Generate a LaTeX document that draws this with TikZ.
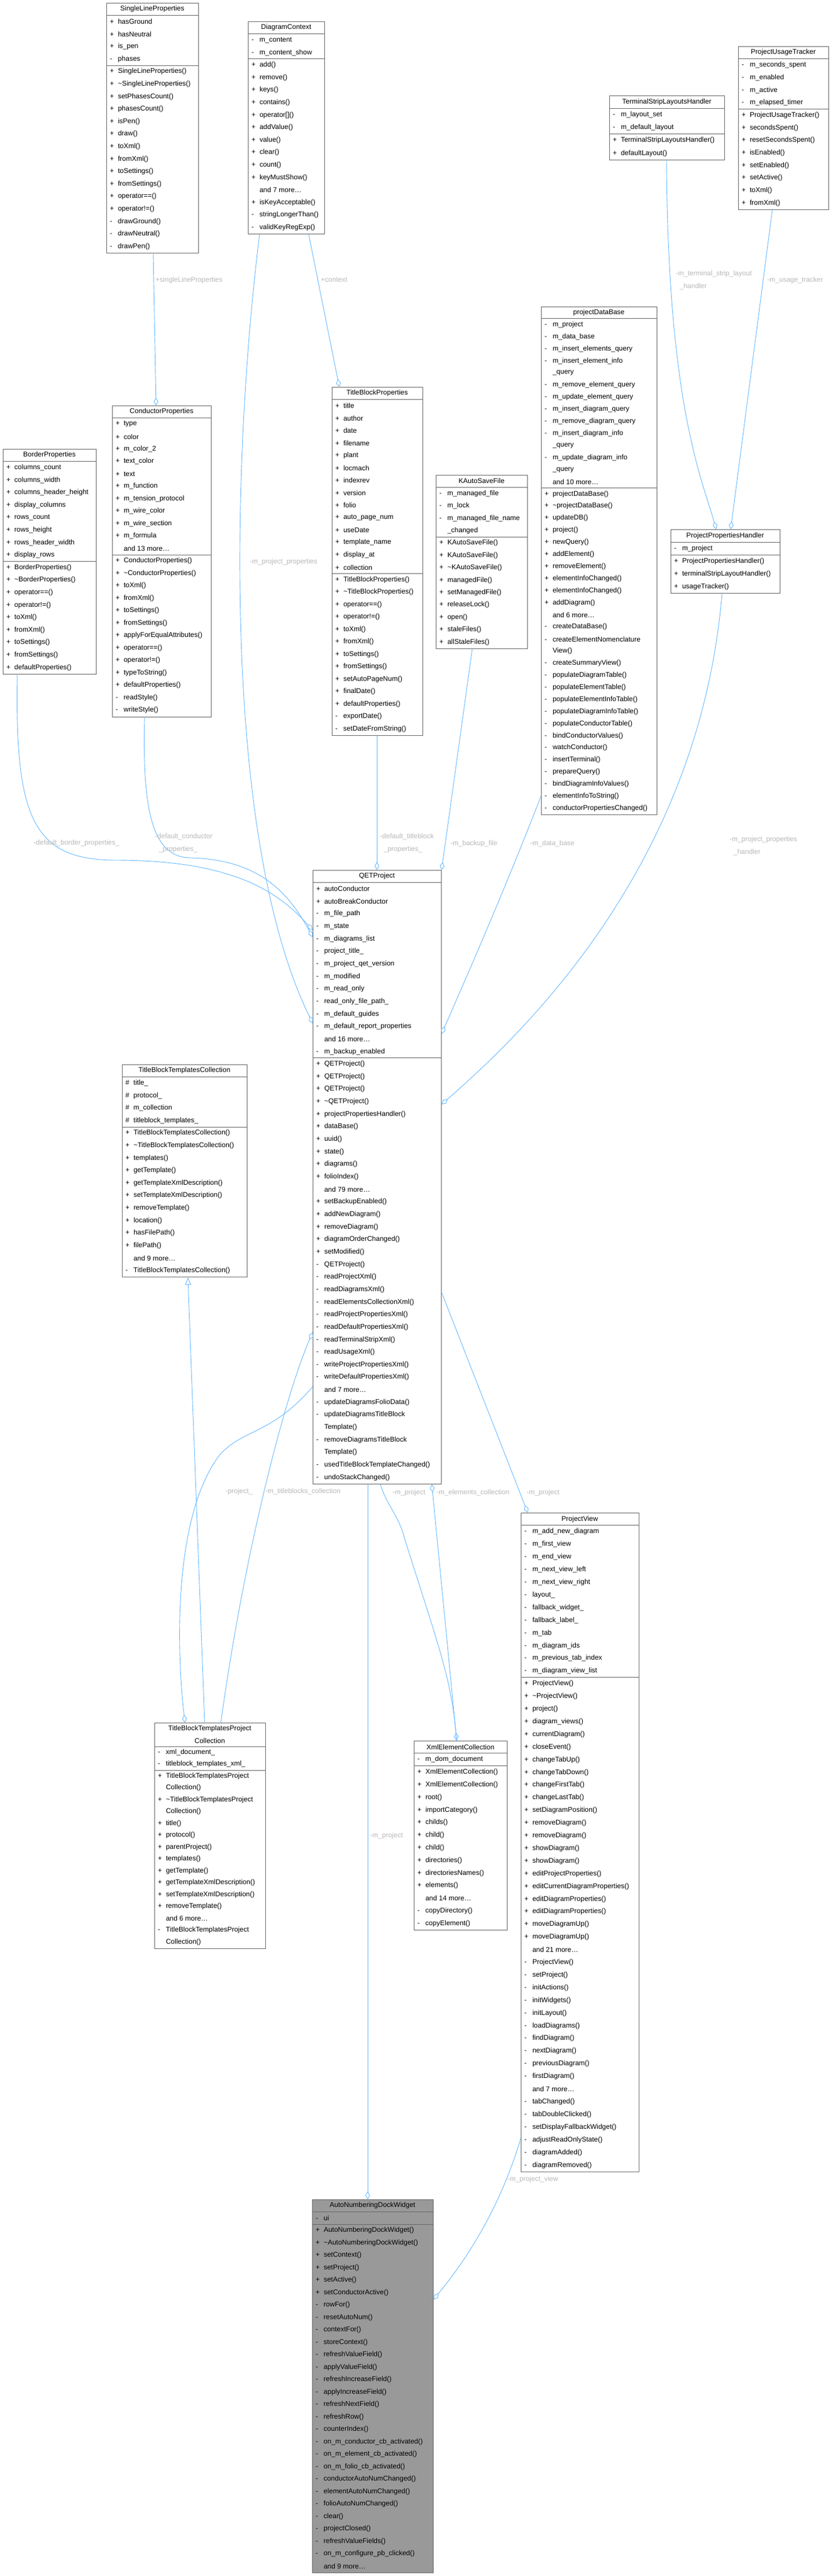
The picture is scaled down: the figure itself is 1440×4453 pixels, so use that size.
\documentclass[tikz,border=0pt]{standalone}
\usepackage{fontspec}
\setmainfont{Liberation Sans}
\usepackage{xcolor}
\usetikzlibrary{positioning,backgrounds,arrows.meta}

\definecolor{edgeblue}{HTML}{63B8FF}
\definecolor{framegray}{HTML}{666666}
\definecolor{labelgray}{HTML}{B8B8B8}
\definecolor{focusgray}{HTML}{999999}

\tikzset{
  classframe/.style={draw=framegray, line width=0.9pt, fill=white, inner sep=0pt},
  classtitle/.style={inner sep=0pt, font=\fontsize{12}{14}\selectfont},
  classrow/.style={anchor=west, inner sep=0pt, font=\fontsize{12}{14}\selectfont},
  focus/.style={fill=focusgray},
  member/.style={draw=edgeblue, line width=0.9pt, -{Diamond[open,length=14pt,width=8pt]}},
  derived/.style={draw=edgeblue, line width=0.9pt, -{Triangle[open,length=13pt,width=10pt]}},
  edgelabel/.style={anchor=west, inner sep=0pt, text=labelgray, align=left,
    font=\fontsize{12}{22}\selectfont},
}

% #1 style, #2 name, #3 left, #4 top, #5 right, #6 row pitch, #7 title, #8 attributes, #9 methods
\newcommand\classbox[9][]{%
  \xdef\rowy{#4}%
  \foreach \ctxt in {#7} {%
    \node[classtitle] at ({(#3+#5)/2},\rowy+#6/2) {\ctxt};
    \pgfmathsetmacro\rowy{\rowy+#6}\xdef\rowy{\rowy}}%
  \xdef\sepa{\rowy}%
  \foreach \csign/\ctxt in {#8} {%
    \node[classrow] at (#3+6,\rowy+#6/2) {\makebox[1.15em][l]{\csign}\ctxt};
    \pgfmathsetmacro\rowy{\rowy+#6}\xdef\rowy{\rowy}}%
  \xdef\sepb{\rowy}%
  \foreach \csign/\ctxt in {#9} {%
    \node[classrow] at (#3+6,\rowy+#6/2) {\makebox[1.15em][l]{\csign}\ctxt};
    \pgfmathsetmacro\rowy{\rowy+#6}\xdef\rowy{\rowy}}%
  \begin{scope}[on background layer]
    \node[classframe, #1, minimum width={(#5-#3)*1pt}, minimum height={(\rowy-#4)*1pt},
      anchor=north west] (#2) at (#3,#4) {};
  \end{scope}
  \draw[framegray, line width=0.9pt] (#3,\sepa) -- (#5,\sepa) (#3,\sepb) -- (#5,\sepb);
}

\begin{document}
\begin{tikzpicture}[x=1pt, y=-1pt]

\useasboundingbox (0,0) rectangle (1440,4453);
\begin{scope}[on background layer]
  \fill[white] (0,0) rectangle (1440,4453);
\end{scope}

% classes, top row
\classbox{slp}{184}{5}{343}{21.6}{SingleLineProperties}
  {+/hasGround, +/hasNeutral, +/is\_pen, -/phases}
  {+/SingleLineProperties(), +/\textasciitilde SingleLineProperties(), +/setPhasesCount(),
   +/phasesCount(), +/isPen(), +/draw(), +/toXml(), +/fromXml(), +/toSettings(),
   +/fromSettings(), +/operator==(), +/operator!=(), -/drawGround(), -/drawNeutral(), -/drawPen()}

\classbox{dc}{429}{37}{561}{21.6}{DiagramContext}
  {-/m\_content, -/m\_content\_show}
  {+/add(), +/remove(), +/keys(), +/contains(), +/operator[](), +/addValue(), +/value(),
   +/clear(), +/count(), +/keyMustShow(), {}/and 7 more\dots, +/isKeyAcceptable(),
   -/stringLongerThan(), -/validKeyRegExp()}

\classbox{tslh}{1054}{165}{1253}{22.2}{TerminalStripLayoutsHandler}
  {-/m\_layout\_set, -/m\_default\_layout}
  {+/TerminalStripLayoutsHandler(), +/defaultLayout()}

\classbox{put}{1277}{80}{1433}{21.7}{ProjectUsageTracker}
  {-/m\_seconds\_spent, -/m\_enabled, -/m\_active, -/m\_elapsed\_timer}
  {+/ProjectUsageTracker(), +/secondsSpent(), +/resetSecondsSpent(), +/isEnabled(),
   +/setEnabled(), +/setActive(), +/toXml(), +/fromXml()}

% classes, second row
\classbox{bp}{5}{776}{166}{21.6}{BorderProperties}
  {+/columns\_count, +/columns\_width, +/columns\_header\_height, +/display\_columns,
   +/rows\_count, +/rows\_height, +/rows\_header\_width, +/display\_rows}
  {+/BorderProperties(), +/\textasciitilde BorderProperties(), +/operator==(), +/operator!=(),
   +/toXml(), +/fromXml(), +/toSettings(), +/fromSettings(), +/defaultProperties()}

\classbox{cp}{194}{701}{365}{21.5}{ConductorProperties}
  {+/type, +/color, +/m\_color\_2, +/text\_color, +/text, +/m\_function,
   +/m\_tension\_protocol, +/m\_wire\_color, +/m\_wire\_section, +/m\_formula, {}/and 13 more\dots}
  {+/ConductorProperties(), +/\textasciitilde ConductorProperties(), +/toXml(), +/fromXml(),
   +/toSettings(), +/fromSettings(), +/applyForEqualAttributes(), +/operator==(),
   +/operator!=(), +/typeToString(), +/defaultProperties(), -/readStyle(), -/writeStyle()}

\classbox{tbp}{574}{669}{731}{21.5}{TitleBlockProperties}
  {+/title, +/author, +/date, +/filename, +/plant, +/locmach, +/indexrev, +/version,
   +/folio, +/auto\_page\_num, +/useDate, +/template\_name, +/display\_at, +/collection}
  {+/TitleBlockProperties(), +/\textasciitilde TitleBlockProperties(), +/operator==(),
   +/operator!=(), +/toXml(), +/fromXml(), +/toSettings(), +/fromSettings(),
   +/setAutoPageNum(), +/finalDate(), +/defaultProperties(), -/exportDate(),
   -/setDateFromString()}

\classbox{kasf}{754}{821}{912}{21.4}{KAutoSaveFile}
  {-/m\_managed\_file, -/m\_lock, -/m\_managed\_file\_name, {}/\_changed}
  {+/KAutoSaveFile(), +/KAutoSaveFile(), +/\textasciitilde KAutoSaveFile(), +/managedFile(),
   +/setManagedFile(), +/releaseLock(), +/open(), +/staleFiles(), +/allStaleFiles()}

\classbox{pdb}{936}{530}{1136}{20.9}{projectDataBase}
  {-/m\_project, -/m\_data\_base, -/m\_insert\_elements\_query, -/m\_insert\_element\_info,
   {}/\_query, -/m\_remove\_element\_query, -/m\_update\_element\_query,
   -/m\_insert\_diagram\_query, -/m\_remove\_diagram\_query, -/m\_insert\_diagram\_info,
   {}/\_query, -/m\_update\_diagram\_info, {}/\_query, {}/and 10 more\dots}
  {+/projectDataBase(), +/\textasciitilde projectDataBase(), +/updateDB(), +/project(),
   +/newQuery(), +/addElement(), +/removeElement(), +/elementInfoChanged(),
   +/elementInfoChanged(), +/addDiagram(), {}/and 6 more\dots, -/createDataBase(),
   -/createElementNomenclature, {}/View(), -/createSummaryView(), -/populateDiagramTable(),
   -/populateElementTable(), -/populateElementInfoTable(), -/populateDiagramInfoTable(),
   -/populateConductorTable(), -/bindConductorValues(), -/watchConductor(),
   -/insertTerminal(), -/prepareQuery(), -/bindDiagramInfoValues(),
   -/elementInfoToString(), -/conductorPropertiesChanged()}

\classbox{pph}{1160}{915}{1349}{22}{ProjectPropertiesHandler}
  {-/m\_project}
  {+/ProjectPropertiesHandler(), +/terminalStripLayoutHandler(), +/usageTracker()}

% the project
\classbox{qet}{541}{1504}{763}{21.65}{QETProject}
  {+/autoConductor, +/autoBreakConductor, -/m\_file\_path, -/m\_state, -/m\_diagrams\_list,
   -/project\_title\_, -/m\_project\_qet\_version, -/m\_modified, -/m\_read\_only,
   -/read\_only\_file\_path\_, -/m\_default\_guides, -/m\_default\_report\_properties,
   {}/and 16 more\dots, -/m\_backup\_enabled}
  {+/QETProject(), +/QETProject(), +/QETProject(), +/\textasciitilde QETProject(),
   +/projectPropertiesHandler(), +/dataBase(), +/uuid(), +/state(), +/diagrams(),
   +/folioIndex(), {}/and 79 more\dots, +/setBackupEnabled(), +/addNewDiagram(),
   +/removeDiagram(), +/diagramOrderChanged(), +/setModified(), -/QETProject(),
   -/readProjectXml(), -/readDiagramsXml(), -/readElementsCollectionXml(),
   -/readProjectPropertiesXml(), -/readDefaultPropertiesXml(), -/readTerminalStripXml(),
   -/readUsageXml(), -/writeProjectPropertiesXml(), -/writeDefaultPropertiesXml(),
   {}/and 7 more\dots, -/updateDiagramsFolioData(), -/updateDiagramsTitleBlock,
   {}/Template(), -/removeDiagramsTitleBlock, {}/Template(),
   -/usedTitleBlockTemplateChanged(), -/undoStackChanged()}

\classbox{tbtc}{211}{1840}{427}{21.6}{TitleBlockTemplatesCollection}
  {\#/title\_, \#/protocol\_, \#/m\_collection, \#/titleblock\_templates\_}
  {+/TitleBlockTemplatesCollection(), +/\textasciitilde TitleBlockTemplatesCollection(),
   +/templates(), +/getTemplate(), +/getTemplateXmlDescription(),
   +/setTemplateXmlDescription(), +/removeTemplate(), +/location(), +/hasFilePath(),
   +/filePath(), {}/and 9 more\dots, -/TitleBlockTemplatesCollection()}

\classbox{tbtpc}{267}{2978}{459}{20.5}{TitleBlockTemplatesProject, Collection}
  {-/xml\_document\_, -/titleblock\_templates\_xml\_}
  {+/TitleBlockTemplatesProject, {}/Collection(), +/\textasciitilde TitleBlockTemplatesProject,
   {}/Collection(), +/title(), +/protocol(), +/parentProject(), +/templates(),
   +/getTemplate(), +/getTemplateXmlDescription(), +/setTemplateXmlDescription(),
   +/removeTemplate(), {}/and 6 more\dots, -/TitleBlockTemplatesProject, {}/Collection()}

\classbox{xec}{716}{3009}{877}{21.8}{XmlElementCollection}
  {-/m\_dom\_document}
  {+/XmlElementCollection(), +/XmlElementCollection(), +/root(), +/importCategory(),
   +/childs(), +/child(), +/child(), +/directories(), +/directoriesNames(), +/elements(),
   {}/and 14 more\dots, -/copyDirectory(), -/copyElement()}

\classbox{pv}{901}{2615}{1105}{21.9}{ProjectView}
  {-/m\_add\_new\_diagram, -/m\_first\_view, -/m\_end\_view, -/m\_next\_view\_left,
   -/m\_next\_view\_right, -/layout\_, -/fallback\_widget\_, -/fallback\_label\_, -/m\_tab,
   -/m\_diagram\_ids, -/m\_previous\_tab\_index, -/m\_diagram\_view\_list}
  {+/ProjectView(), +/\textasciitilde ProjectView(), +/project(), +/diagram\_views(),
   +/currentDiagram(), +/closeEvent(), +/changeTabUp(), +/changeTabDown(),
   +/changeFirstTab(), +/changeLastTab(), +/setDiagramPosition(), +/removeDiagram(),
   +/removeDiagram(), +/showDiagram(), +/showDiagram(), +/editProjectProperties(),
   +/editCurrentDiagramProperties(), +/editDiagramProperties(), +/editDiagramProperties(),
   +/moveDiagramUp(), +/moveDiagramUp(), {}/and 21 more\dots, -/ProjectView(),
   -/setProject(), -/initActions(), -/initWidgets(), -/initLayout(), -/loadDiagrams(),
   -/findDiagram(), -/nextDiagram(), -/previousDiagram(), -/firstDiagram(),
   {}/and 7 more\dots, -/tabChanged(), -/tabDoubleClicked(), -/setDisplayFallbackWidget(),
   -/adjustReadOnlyState(), -/diagramAdded(), -/diagramRemoved()}

\classbox[focus]{andw}{540}{3802}{749}{21.5}{AutoNumberingDockWidget}
  {-/ui}
  {+/AutoNumberingDockWidget(), +/\textasciitilde AutoNumberingDockWidget(), +/setContext(),
   +/setProject(), +/setActive(), +/setConductorActive(), -/rowFor(), -/resetAutoNum(),
   -/contextFor(), -/storeContext(), -/refreshValueField(), -/applyValueField(),
   -/refreshIncreaseField(), -/applyIncreaseField(), -/refreshNextField(), -/refreshRow(),
   -/counterIndex(), -/on\_m\_conductor\_cb\_activated(), -/on\_m\_element\_cb\_activated(),
   -/on\_m\_folio\_cb\_activated(), -/conductorAutoNumChanged(), -/elementAutoNumChanged(),
   -/folioAutoNumChanged(), -/clear(), -/projectClosed(), -/refreshValueFields(),
   -/on\_m\_configure\_pb\_clicked(), {}/and 9 more\dots}

% relations
\draw[member] (slp.south -| 265,0) -- (cp.north -| 270,0);
\draw[member] (dc.south -| 534,0) -- (tbp.north -| 587,0);
\draw[member] (dc.south -| 449,0) .. controls (400,800) and (385,1450) .. (qet.west |- 0,1769);
\draw[member] (bp.south -| 30,0) .. controls (25,1420) and (60,1486) .. (200,1487)
  .. controls (400,1487) and (480,1540) .. (qet.west |- 0,1608);
\draw[member] (cp.south -| 250,0) .. controls (245,1420) and (270,1482) .. (330,1483)
  .. controls (450,1486) and (500,1545) .. (qet.west |- 0,1620);
\draw[member] (tbp.south -| 652,0) -- (qet.north -| 652,0);
\draw[member] (kasf.south -| 817,0) -- (qet.north east);
\draw[member] (pdb.west |- 0,1376) .. controls (880,1520) and (820,1660) .. (qet.east |- 0,1787);
\draw[member] (pph.south -| 1249,0) .. controls (1210,1500) and (900,1790) .. (qet.east |- 0,1909);
\draw[member] (tslh.south -| 1153,0) .. controls (1155,700) and (1215,830) .. (pph.north -| 1239,0);
\draw[member] (put.south -| 1336,0) -- (pph.north -| 1264,0);
\draw[derived] (tbtpc.north -| 354,0) -- (tbtc.south -| 325,0);
\draw[member] (tbtpc.north -| 382,0) .. controls (420,2700) and (490,2420) .. (qet.west |- 0,2303);
\draw[member] (qet.west |- 0,2397) .. controls (470,2480) and (420,2470) .. (380,2515)
  .. controls (300,2620) and (305,2850) .. (tbtpc.north -| 320,0);
\draw[member] (qet.south -| 636,0) -- (andw.north -| 636,0);
\draw[member] (qet.south -| 658,0) .. controls (668,2600) and (690,2620) .. (700,2660)
  .. controls (760,2850) and (780,2900) .. (xec.north -| 790,0);
\draw[member] (xec.north -| 790,0) -- (qet.south -| 747,0);
\draw[member] (qet.east |- 0,2234) -- (pv.north -| 913,0);
\draw[member] (pv.west |- 0,3696) .. controls (870,3800) and (820,3890) .. (andw.east |- 0,3975);

% relation labels
\node[edgelabel] (lab-slp) at (269,484) {+singleLineProperties};
\node[edgelabel] (lab-ctx) at (555,484) {+context};
\node[edgelabel] (lab-tslh) at (1169,484) {-m\_terminal\_strip\_layout\\\ \ \_handler};
\node[edgelabel] (lab-put) at (1327,484) {-m\_usage\_tracker};
\node[edgelabel] (lab-qpp) at (432,971) {-m\_project\_properties};
\node[edgelabel] (lab-bp) at (58,1457) {-default\_border\_properties\_};
\node[edgelabel] (lab-cp) at (268,1457) {-default\_conductor\\\ \ \_properties\_};
\node[edgelabel] (lab-tbp) at (657,1457) {-default\_titleblock\\\ \ \_properties\_};
\node[edgelabel] (lab-kasf) at (779,1458) {-m\_backup\_file};
\node[edgelabel] (lab-pdb) at (917,1458) {-m\_data\_base};
\node[edgelabel] (lab-pph) at (1262,1462) {-m\_project\_properties\\\ \ \_handler};
\node[edgelabel] (lab-prj) at (390,2578) {-project\_};
\node[edgelabel] (lab-tbc) at (459,2578) {-m\_titleblocks\_collection};
\node[edgelabel] (lab-xp) at (679,2580) {-m\_project};
\node[edgelabel] (lab-xec) at (755,2580) {-m\_elements\_collection};
\node[edgelabel] (lab-pvp) at (911,2580) {-m\_project};
\node[edgelabel] (lab-ap) at (640,3173) {-m\_project};
\node[edgelabel] (lab-apv) at (878,3767) {-m\_project\_view};

\end{tikzpicture}
\end{document}
